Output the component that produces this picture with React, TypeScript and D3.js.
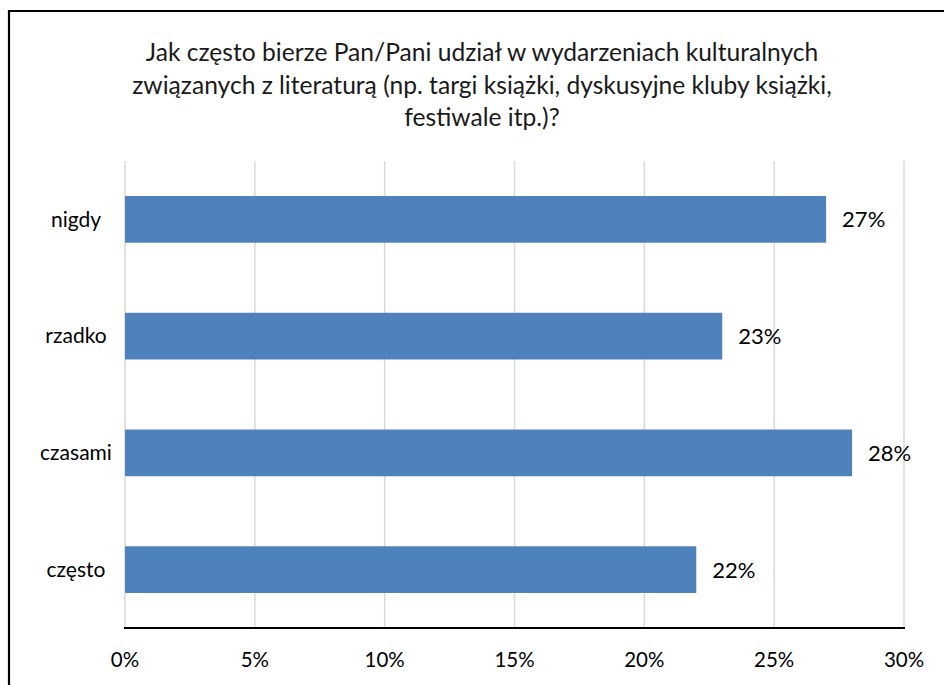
import React from "react";
import * as d3 from "d3";

const categories = ["nigdy", "rzadko", "czasami", "często"];
const values = [27, 23, 28, 22];
const xTicks = [0, 5, 10, 15, 20, 25, 30];
const titleLines = [
  "Jak często bierze Pan/Pani udział w wydarzeniach kulturalnych",
  "związanych z literaturą (np. targi książki, dyskusyjne kluby książki,",
  "festiwale itp.)?",
];

const W = 944;
const H = 685;
const plot = { left: 125, right: 904, top: 161, bottom: 628 };
const FONT = "Lato, 'Open Sans', sans-serif";

export default function App() {
  const x = d3.scaleLinear().domain([0, 30]).range([plot.left, plot.right]);
  const y = d3
    .scaleBand<string>()
    .domain(categories)
    .range([plot.top, plot.bottom])
    .paddingInner(0.6)
    .paddingOuter(0.3);

  return (
    <svg
      width={W}
      height={H}
      style={{ position: "fixed", left: 0, top: 0, background: "#fff" }}
      fontFamily={FONT}
    >
      <rect x={0} y={0} width={W} height={H} fill="#fff" />
      {/* outer frame */}
      <path d={`M9,${H + 5} V11 H${W + 5}`} fill="none" stroke="#000" strokeWidth={2.2} />
      {/* title */}
      {titleLines.map((t, i) => (
        <text
          key={i}
          x={482}
          y={61 + i * 32.5}
          textAnchor="middle"
          fontSize={24.6}
          fill="#1a1a1a"
        >
          {t}
        </text>
      ))}
      {/* gridlines */}
      {xTicks.map((t) => (
        <line
          key={t}
          x1={x(t)}
          x2={x(t)}
          y1={plot.top}
          y2={plot.bottom}
          stroke="#d9d9d9"
          strokeWidth={1.5}
        />
      ))}
      {/* bars */}
      {categories.map((c, i) => (
        <rect
          key={c}
          x={x(0)}
          y={y(c)}
          width={x(values[i]) - x(0)}
          height={y.bandwidth()}
          fill="#4f81bd"
        />
      ))}
      {/* value labels */}
      {categories.map((c, i) => (
        <text
          key={c}
          x={x(values[i]) + 16}
          y={(y(c) as number) + y.bandwidth() / 2}
          dy="0.36em"
          fontSize={22}
          fill="#000"
        >
          {values[i]}%
        </text>
      ))}
      {/* category labels */}
      {categories.map((c) => (
        <text
          key={c}
          x={76}
          y={(y(c) as number) + y.bandwidth() / 2}
          dy="0.35em"
          textAnchor="middle"
          fontSize={21}
          fill="#000"
        >
          {c}
        </text>
      ))}
      {/* axis line */}
      <line x1={plot.left - 1} x2={plot.right + 1} y1={plot.bottom} y2={plot.bottom} stroke="#000" strokeWidth={2.2} />
      {/* tick labels */}
      {xTicks.map((t) => (
        <text key={t} x={x(t)} y={667} textAnchor="middle" fontSize={20.5} fill="#000">
          {t}%
        </text>
      ))}
    </svg>
  );
}
